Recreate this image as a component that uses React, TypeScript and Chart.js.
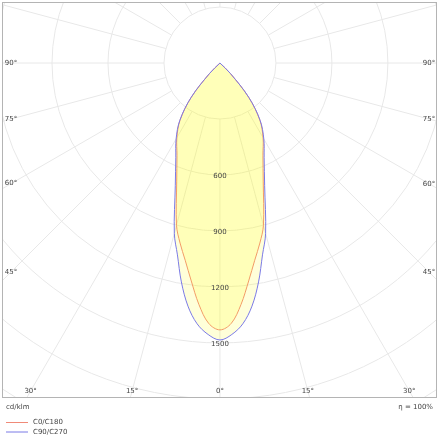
import { useEffect, useRef } from "react";
import { Chart, registerables } from "chart.js";

Chart.register(...registerables);

// gamma angles (deg from nadir) and luminous intensity in cd/klm
const angles = [0, 2.5, 5, 7.5, 10, 12.5, 15, 20, 25, 30, 35, 40, 45, 50, 55, 60, 65, 70, 75, 80, 85, 90];
const c0c180 = [1430, 1396, 1298, 1178, 1073, 988, 900, 678, 545, 462, 372, 238, 78, 0, 0, 0, 0, 0, 0, 0, 0, 0];
const c90c270 = [1484, 1456, 1403, 1314, 1191, 1053, 945, 700, 560, 470, 375, 240, 78, 0, 0, 0, 0, 0, 0, 0, 0, 0];

const rings = [300, 600, 900, 1200, 1500, 1800, 2100];
const ringLabels = [600, 900, 1200, 1500];
const angleTicks = [0, 15, 30, 45, 60, 75, 90];
const seriesNames = ["C0/C180", "C90/C270"];
const seriesColors = ["#f08a78", "#7a7ae6"];

const FONT = "7px 'DejaVu Sans', sans-serif";

// left half then right half, gamma 90 -> 0 -> 90
function toPoints(values: number[]) {
  const rad = (d: number) => (d * Math.PI) / 180;
  const left = angles
    .map((a, i) => ({ x: -values[i] * Math.sin(rad(a)), y: -values[i] * Math.cos(rad(a)) }))
    .reverse();
  const right = angles
    .slice(1)
    .map((a, i) => ({ x: values[i + 1] * Math.sin(rad(a)), y: -values[i + 1] * Math.cos(rad(a)) }));
  return [...left, ...right];
}

const polarGrid = {
  id: "polarGrid",
  beforeDatasetsDraw(chart: any) {
    const { ctx, chartArea: a, scales } = chart;
    const cx = scales.x.getPixelForValue(0);
    const cy = scales.y.getPixelForValue(0);
    const k = scales.x.getPixelForValue(1) - cx;
    ctx.save();
    ctx.beginPath();
    ctx.rect(a.left, a.top, a.width, a.height);
    ctx.clip();
    ctx.strokeStyle = "#e8e8e8";
    ctx.lineWidth = 1;
    rings.forEach((v) => {
      ctx.beginPath();
      ctx.arc(cx, cy, v * k, 0, Math.PI * 2);
      ctx.stroke();
    });
    const r0 = rings[0] * k;
    for (let d = 0; d < 360; d += 15) {
      const t = (d * Math.PI) / 180;
      ctx.beginPath();
      ctx.moveTo(cx + r0 * Math.sin(t), cy + r0 * Math.cos(t));
      ctx.lineTo(cx + 1000 * Math.sin(t), cy + 1000 * Math.cos(t));
      ctx.stroke();
    }
    ctx.restore();
  },
  afterDatasetsDraw(chart: any) {
    const { ctx, chartArea: a, scales } = chart;
    const cx = scales.x.getPixelForValue(0);
    const cy = scales.y.getPixelForValue(0);
    const k = scales.x.getPixelForValue(1) - cx;
    ctx.save();
    ctx.font = FONT;
    ctx.fillStyle = "#444";
    ctx.textAlign = "center";
    ctx.textBaseline = "middle";
    ringLabels.forEach((v) => ctx.fillText(String(v), cx, cy + v * k + 1));

    const inL = cx - (a.left + 9);
    const inR = a.right - 8 - cx;
    const inB = a.bottom - 7 - cy;
    angleTicks.forEach((d) => {
      const t = (d * Math.PI) / 180;
      const s = Math.sin(t);
      const c = Math.cos(t);
      [-1, 1].forEach((side) => {
        if (d === 0 && side === 1) return;
        const w = side < 0 ? inL : inR;
        const tSide = s > 0 ? w / s : Infinity;
        const tBot = c > 1e-6 ? inB / c : Infinity;
        const r = Math.min(tSide, tBot);
        ctx.fillText(d + "\u00b0", cx + side * r * s, cy + r * c);
      });
    });
    ctx.restore();
  },
  afterDraw(chart: any) {
    const { ctx, chartArea: a } = chart;
    ctx.save();
    ctx.strokeStyle = "#b4b4b4";
    ctx.lineWidth = 1;
    ctx.strokeRect(a.left + 0.5, a.top + 0.5, a.width - 1, a.height - 1);

    ctx.font = FONT;
    ctx.fillStyle = "#444";
    ctx.textBaseline = "middle";
    ctx.textAlign = "left";
    ctx.fillText("cd/klm", a.left + 4, a.bottom + 9);
    ctx.textAlign = "right";
    ctx.fillText("\u03b7 = 100%", a.right - 4, a.bottom + 9);

    ctx.textAlign = "left";
    seriesNames.forEach((name, i) => {
      const y = a.bottom + 24.5 + i * 9.5;
      ctx.strokeStyle = seriesColors[i];
      ctx.beginPath();
      ctx.moveTo(a.left + 4, y);
      ctx.lineTo(a.left + 26, y);
      ctx.stroke();
      ctx.fillText(name, a.left + 31, y);
    });
    ctx.restore();
  },
};

export default function App() {
  const canvasRef = useRef<HTMLCanvasElement>(null);

  useEffect(() => {
    document.body.style.margin = "0";
    if (!canvasRef.current) return;

    const chart = new Chart(canvasRef.current, {
      type: "scatter",
      data: {
        datasets: [
          {
            label: seriesNames[1],
            data: toPoints(c90c270),
            showLine: true,
            borderColor: seriesColors[1],
            borderWidth: 1,
            backgroundColor: "rgba(255, 255, 0, 0.15)",
            fill: "shape",
            pointRadius: 0,
            tension: 0.35,
          },
          {
            label: seriesNames[0],
            data: toPoints(c0c180),
            showLine: true,
            borderColor: seriesColors[0],
            borderWidth: 1,
            backgroundColor: "rgba(255, 255, 0, 0.15)",
            fill: "shape",
            pointRadius: 0,
            tension: 0.35,
          },
        ],
      },
      options: {
        responsive: false,
        animation: false,
        layout: { padding: { left: 2, top: 2, right: 5, bottom: 42 } },
        scales: {
          x: { type: "linear", min: -1168, max: 1163, display: false },
          y: { type: "linear", min: -1795, max: 327, display: false },
        },
        plugins: {
          legend: { display: false },
          tooltip: { enabled: false },
        },
      },
      plugins: [polarGrid],
    });

    return () => chart.destroy();
  }, []);

  return (
    <div style={{ width: 442, height: 440, background: "#fff" }}>
      <canvas ref={canvasRef} width={442} height={440} />
    </div>
  );
}
